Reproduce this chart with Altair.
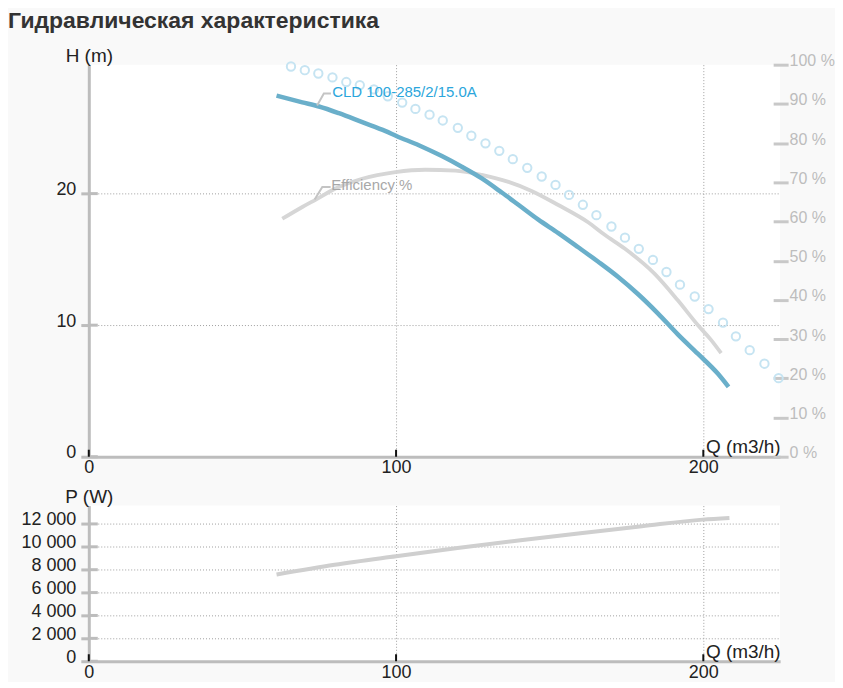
import altair as alt
import pandas as pd

FONT = "Liberation Sans"
W = 693
H1 = 393
H2 = 156

# ---- data ----
q_head = [61.1, 69.5, 74.9, 81.4, 89.0, 96.6, 100.1, 107.4, 114.9, 121.4, 127.9, 134.4,
          139.8, 146.3, 152.8, 159.3, 165.8, 172.3, 178.8, 185.2, 191.7, 198.2, 204.7, 208.2]
h_head = [27.45, 26.94, 26.62, 26.11, 25.43, 24.75, 24.38, 23.68, 22.85, 22.04, 21.15, 20.08,
          19.15, 18.02, 17.0, 15.92, 14.82, 13.66, 12.35, 10.9, 9.3, 7.83, 6.32, 5.31]

q_circ = [65.8, 70.3, 74.7, 79.3, 83.8, 88.2, 92.8, 97.3, 102.0, 106.3, 110.9, 115.2, 120.1,
          124.5, 129.1, 133.6, 138.0, 142.7, 147.4, 151.9, 156.3, 160.8, 165.2, 170.1, 174.5,
          179.0, 183.6, 188.0, 192.4, 197.2, 201.7, 206.4, 210.6, 215.1, 219.9, 224.5]
h_circ = [29.66, 29.38, 29.13, 28.83, 28.48, 28.25, 27.92, 27.4, 26.92, 26.44, 26.0, 25.56, 25.0,
          24.4, 23.82, 23.25, 22.62, 21.96, 21.3, 20.66, 19.9, 19.15, 18.36, 17.5, 16.65,
          15.8, 14.96, 14.04, 13.08, 12.18, 11.22, 10.19, 9.15, 8.1, 7.07, 5.97]

q_eff = [63.0, 69.5, 73.9, 80.3, 89.0, 99.8, 109.5, 119.3, 127.9, 136.6, 144.1, 152.8, 162.5,
         167.9, 174.4, 184.1, 191.7, 198.2, 202.5, 205.8]
e_eff = [60.7, 63.7, 65.6, 68.4, 70.9, 72.6, 73.2, 73.0, 71.9, 70.1, 67.8, 64.2, 59.8,
         56.6, 53.1, 46.7, 39.9, 33.6, 29.8, 26.4]

q_pow = [61.1, 80.0, 100.0, 120.0, 139.8, 160.0, 172.2, 180.0, 199.8, 208.5]
p_pow = [7582, 8430, 9177, 9890, 10545, 11190, 11565, 11800, 12375, 12523]

x_ticks = [0, 100, 200]
h_ticks = [0, 10, 20]
e_ticks = [0, 10, 20, 30, 40, 50, 60, 70, 80, 90, 100]
p_ticks = [0, 2000, 4000, 6000, 8000, 10000, 12000]

series_name = "CLD 100-285/2/15.0A"
eff_name = "Efficiency %"
name_leader_q = [74.3, 76.5, 78.8]
name_leader_h = [26.7, 27.6, 27.6]
name_pos = (79.2, 27.75)
eff_leader_q = [73.5, 76.0, 78.7]
eff_leader_e = [65.6, 68.8, 68.8]
eff_pos = (78.9, 69.2)

title_text = "Гидравлическая характеристика"

# ---- tables ----
df_head = pd.DataFrame({"Q": q_head, "H": h_head})
df_circ = pd.DataFrame({"Q": q_circ, "H": h_circ})
df_eff = pd.DataFrame({"Q": q_eff, "E": e_eff})
df_pow = pd.DataFrame({"Q": q_pow, "P": p_pow})
df_xt = pd.DataFrame({"Q": x_ticks})
df_ht = pd.DataFrame({"H": h_ticks})
df_pt = pd.DataFrame({"P": p_ticks})
df_nl = pd.DataFrame({"Q": name_leader_q, "H": name_leader_h})
df_el = pd.DataFrame({"Q": eff_leader_q, "E": eff_leader_e})
df_nt = pd.DataFrame({"Q": [name_pos[0]], "H": [name_pos[1]], "t": [series_name]})
df_et = pd.DataFrame({"Q": [eff_pos[0]], "E": [eff_pos[1]], "t": [eff_name]})

# ---- scales / axes ----
x_scale = alt.Scale(domain=[0, 225], nice=False, zero=False)
h_scale = alt.Scale(domain=[0, 29.8], nice=False)
e_scale = alt.Scale(domain=[0, 100], nice=False)
p_scale = alt.Scale(domain=[0, 13600], nice=False)

GRID = dict(grid=True, gridColor="#a0a0a0", gridDash=[1, 2], gridWidth=1)
LAB = dict(labelFont=FONT, labelFontSize=18, labelColor="#222",
           titleFont=FONT, titleFontSize=19, titleColor="#222", titleFontWeight="normal")

x_axis = alt.Axis(values=x_ticks, ticks=False, domainColor="#bdbdbd", domainWidth=3,
                  labelPadding=2, labelFlush=False, title="Q (m3/h)", titleX=W, titleY=-4,
                  titleAlign="right", titleBaseline="alphabetic", titleAnchor="end",
                  **GRID, **LAB)


def y_left(vals, title, expr=None):
    kw = dict(values=vals, domainColor="#bdbdbd", domainWidth=3, tickColor="#bdbdbd",
              tickWidth=3, tickSize=8, labelPadding=5, labelBaseline="alphabetic",
              labelOffset=1, minExtent=81, maxExtent=81, title=title, titleAngle=0, titleX=0,
              titleY=-3, titleAlign="center", titleBaseline="alphabetic")
    if expr:
        kw["labelExpr"] = expr
    return alt.Axis(**kw, **GRID, **LAB)


h_axis = y_left(h_ticks, "H (m)")
p_axis = y_left(p_ticks, "P (W)", "replace(format(datum.value, ','), ',', ' ')")
e_axis = alt.Axis(orient="right", values=e_ticks, labelExpr="datum.value + ' %'", grid=False,
                  domain=False, tickColor="#c8c8c8", tickWidth=3, tickSize=15, offset=-7,
                  labelPadding=1, labelBaseline="alphabetic", labelOffset=1,
                  labelColor="#bdbdbd", labelFont=FONT, labelFontSize=16, title=None)

xq = alt.X("Q:Q", scale=x_scale, axis=x_axis)
yh = alt.Y("H:Q", scale=h_scale, axis=h_axis)
ye = alt.Y("E:Q", scale=e_scale, axis=e_axis)
yp = alt.Y("P:Q", scale=p_scale, axis=p_axis)

# ---- top chart ----
eff_line = alt.Chart(df_eff).mark_line(color="#d6d6d6", strokeWidth=3.8, interpolate="monotone").encode(x=xq, y=ye)
eff_lead = alt.Chart(df_el).mark_line(color="#c4c4c4", strokeWidth=2).encode(x=xq, y=ye)
eff_txt = alt.Chart(df_et).mark_text(align="left", baseline="middle", font=FONT, fontSize=15,
                                     color="#a8a8a8").encode(x=xq, y=ye, text="t:N")
e_layer = alt.layer(eff_line, eff_lead, eff_txt)

head_line = alt.Chart(df_head).mark_line(color="#6aafca", strokeWidth=4.5, interpolate="monotone").encode(x=xq, y=yh)
circles = alt.Chart(df_circ).mark_point(shape="circle", filled=False, size=70, strokeWidth=2,
                                        color="#c6e4f2", opacity=1).encode(x=xq, y=yh)
h_in = alt.Chart(df_ht).mark_rule(color="#bdbdbd", strokeWidth=3).encode(
    y=yh, x=alt.value(0), x2=alt.value(9))
x_in_top = alt.Chart(df_xt).mark_rule(color="#111", strokeWidth=2).encode(
    x=xq, y=alt.value(H1 - 7), y2=alt.value(H1))
name_lead = alt.Chart(df_nl).mark_line(color="#c4c4c4", strokeWidth=2).encode(x=xq, y=yh)
name_txt = alt.Chart(df_nt).mark_text(align="left", baseline="middle", font=FONT, fontSize=15,
                                      color="#2ba6dc").encode(x=xq, y=yh, text="t:N")
h_layer = alt.layer(head_line, circles, h_in, x_in_top, name_lead, name_txt)

top = alt.layer(e_layer, h_layer).resolve_scale(y="independent").properties(width=W, height=H1)

# ---- bottom chart ----
pow_line = alt.Chart(df_pow).mark_line(color="#cfcfcf", strokeWidth=4, interpolate="monotone").encode(x=xq, y=yp)
p_in = alt.Chart(df_pt).mark_rule(color="#bdbdbd", strokeWidth=3).encode(
    y=yp, x=alt.value(0), x2=alt.value(9))
x_in_bot = alt.Chart(df_xt).mark_rule(color="#111", strokeWidth=2).encode(
    x=xq, y=alt.value(H2 - 7), y2=alt.value(H2))
bottom = alt.layer(pow_line, p_in, x_in_bot).properties(width=W, height=H2)

chart = alt.vconcat(top, bottom, spacing=11).properties(
    title=alt.TitleParams(title_text, anchor="start", frame="bounds", font=FONT, fontSize=23,
                          fontWeight="bold", color="#333", offset=14),
    padding={"left": 0, "top": 1, "right": 0, "bottom": 0},
    background="#f9f9f9",
).configure_view(fill="white", stroke=None)

chart.save("out.html", embed_options={"renderer": "svg", "actions": False})
